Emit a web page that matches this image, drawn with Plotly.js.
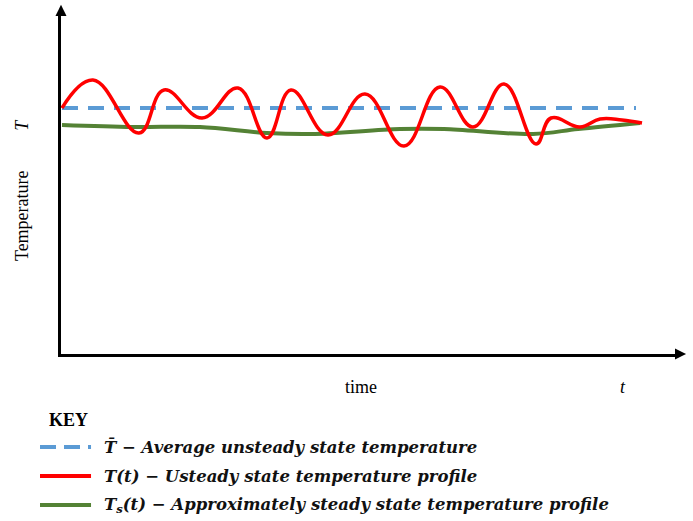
<!DOCTYPE html>
<html><head><meta charset="utf-8">
<script src="https://cdn.plot.ly/plotly-3.0.1.min.js"></script>
<style>html,body{margin:0;padding:0;background:#fff}#chart{width:693px;height:521px}</style>
</head><body><div id="chart"></div>
<script>
// time and temperature (arbitrary units)
const redTime = [1, 32, 78, 103, 141, 177, 206, 230, 267, 304, 343, 379, 412, 443, 475, 490, 519, 539, 561, 581];
const redTemp = [246, 274, 221, 264, 236, 266, 216, 264, 219, 260, 208, 267, 227, 270, 210, 236, 227, 235, 234, 231];
const greenTime = [1, 72, 139, 206, 250, 339, 383, 472, 517, 579];
const greenTemp = [229, 227, 227, 221, 220, 225, 225, 220, 225, 231];
const avgTime = [1, 575];
const avgTemp = [246, 246];
const names = [
  "T\u0304 \u2212 Average unsteady state temperature",
  "T(t) \u2212 Usteady state temperature profile",
  "T<sub>s</sub>(t) \u2212 Approximately steady state temperature profile"
];
const colors = ['#5b9bd5', '#ff0000', '#548235'];

const data = [
  {x: avgTime, y: avgTemp, mode: 'lines', name: names[0],
   line: {color: colors[0], width: 4, dash: '16px,10px'}},
  {x: greenTime, y: greenTemp, mode: 'lines', name: names[2],
   line: {color: colors[2], width: 4, shape: 'spline', smoothing: 1.0}},
  {x: redTime, y: redTemp, mode: 'lines', name: names[1],
   line: {color: colors[1], width: 3.5, shape: 'spline', smoothing: 1.2}}
];

const serif = 'Liberation Serif, Times New Roman, serif';
const keyFont = {family: 'DejaVu Serif, serif', size: 16.5, style: 'italic', weight: 'bold', color: '#111'};
const keyY = [-0.275, -0.361, -0.447];
const keyDash = ['16px,8px', 'solid', 'solid'];

const shapes = [
  {type: 'path', xref: 'paper', yref: 'paper',
   path: 'M -0.009 1.0 L 0 1.033 L 0.009 1.0 Z', fillcolor: '#000', line: {width: 0}},
  {type: 'path', xref: 'paper', yref: 'paper',
   path: 'M 1.0 0.016 L 1.018 0 L 1.0 -0.016 Z', fillcolor: '#000', line: {width: 0}}
];
const ctr = {showarrow: false, xref: 'paper', yref: 'paper', xanchor: 'center', yanchor: 'middle'};
const annotations = [
  Object.assign({}, ctr, {text: 'time', x: 0.4886, y: -0.0976,
   font: {family: serif, size: 18, color: '#000'}}),
  Object.assign({}, ctr, {text: '<i>t</i>', x: 0.915, y: -0.0976,
   font: {family: serif, size: 18, color: '#000'}}),
  Object.assign({}, ctr, {text: 'Temperature', x: -0.0635, y: 0.408, textangle: -90,
   font: {family: serif, size: 18, color: '#000'}}),
  Object.assign({}, ctr, {text: '<i>T</i>', x: -0.0635, y: 0.678, textangle: -90,
   font: {family: serif, size: 18, color: '#000'}}),
  Object.assign({}, ctr, {text: '<b>KEY</b>', x: -0.0228, y: -0.195, xanchor: 'left',
   font: {family: serif, size: 18, color: '#000'}})
];
for (let i = 0; i < 3; i++) {
  shapes.push({type: 'line', xref: 'paper', yref: 'paper', x0: -0.0342, x1: 0.0489,
    y0: keyY[i], y1: keyY[i], line: {color: colors[i], width: 4, dash: keyDash[i]}});
  annotations.push(Object.assign({}, ctr, {text: names[i], x: 0.0668, y: keyY[i],
    xanchor: 'left', font: keyFont}));
}

const layout = {
  width: 693, height: 521,
  margin: {l: 61, r: 18, t: 16, b: 167, autoexpand: false},
  paper_bgcolor: '#fff', plot_bgcolor: '#fff',
  showlegend: false,
  xaxis: {range: [0, 614], showline: true, linecolor: '#000', linewidth: 3,
    showgrid: false, zeroline: false, showticklabels: false, ticks: ''},
  yaxis: {range: [0, 338], showline: true, linecolor: '#000', linewidth: 3,
    showgrid: false, zeroline: false, showticklabels: false, ticks: ''},
  shapes: shapes,
  annotations: annotations
};
Plotly.newPlot('chart', data, layout, {displayModeBar: false, staticPlot: true});
</script>
</body></html>
